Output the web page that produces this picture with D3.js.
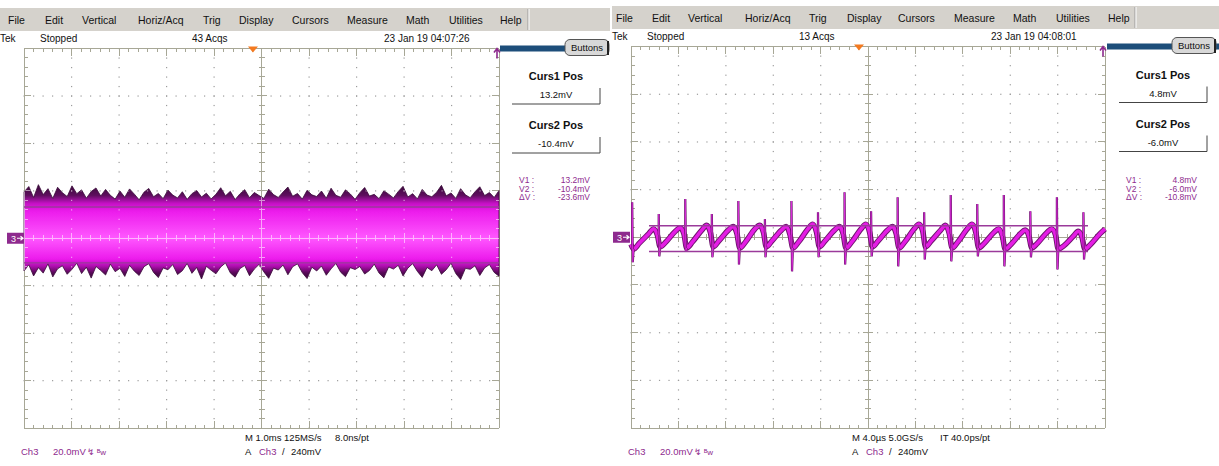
<!DOCTYPE html>
<html><head><meta charset="utf-8">
<script src="https://cdn.jsdelivr.net/npm/d3@7"></script>
<style>body{margin:0;background:#fff}svg{display:block}text{font-family:"Liberation Sans",Arial,sans-serif}</style>
</head><body><script>
// ---------------- data ----------------
const menuLabels = ["File","Edit","Vertical","Horiz/Acq","Trig","Display","Cursors","Measure","Math","Utilities","Help"];
const acqLabels = ["43 Acqs","13 Acqs"];
const timestampLabels = ["23 Jan 19 04:07:26","23 Jan 19 04:08:01"];
const cursor1mV = [13.2, 4.8];
const cursor2mV = [-10.4, -6.0];
const deltaVmV = [-23.6, -10.8];
const channelLabel = "Ch3";
const scaleLabel = "20.0mV";
const timebaseLabels = ["M 1.0ms 125MS/s","M 4.0\u00b5s 5.0GS/s"];
const resolutionLabels = ["8.0ns/pt","IT 40.0ps/pt"];
const triggerLevelLabel = "240mV";
const timeDomains = [[-5,5],[-20,20]];      // ms (left), µs (right)
const voltDomain = [-80,80];                // mV, 20 mV/div
const triggerTimes = [-0.18, -0.76];

// left: peak envelope of the ripple noise (mV), sampled across the screen
const noiseTop = [19.5,21.8,17.2,22.6,18.4,20.9,16.8,21.5,19.2,17.6,22.1,18.8,20.4,16.9,19.7,21.2,17.8,20.6,18.1,16.5,19.9,17.3,20.8,18.6,16.2,19.4,21.0,17.5,18.9,16.7,20.3,18.2,17.0,19.6,16.4,18.8,20.1,17.4,19.0,16.6,18.5,21.3,17.9,19.8,16.3,18.7,20.5,17.1,19.3,18.0,16.8,20.7,18.4,17.2,19.5,21.6,17.7,18.9,16.5,20.2,18.3,17.6,19.9,16.9,21.1,18.1,17.3,20.4,18.7,16.4,19.2,21.4,17.8,18.5,16.7,20.0,18.6,17.0,19.7,21.9,17.4,18.8,16.6,20.6,18.2,17.5,19.4,22.3,17.9,19.1,16.8,20.9,18.3,17.1,19.6,21.7,18.0,19.3,17.2,20.1];
const noiseBottom = [-13.8,-11.2,-15.9,-12.4,-14.7,-10.8,-16.3,-12.9,-11.6,-15.2,-13.1,-10.5,-14.9,-12.2,-16.8,-11.9,-13.6,-15.5,-10.9,-14.1,-12.7,-16.1,-11.4,-13.9,-15.7,-12.0,-10.7,-14.4,-16.6,-12.5,-13.3,-11.1,-15.3,-13.7,-10.6,-14.8,-12.3,-17.2,-11.8,-13.5,-15.0,-12.1,-10.4,-14.6,-16.4,-12.8,-11.5,-15.8,-13.0,-11.0,-14.2,-16.9,-12.6,-13.4,-11.3,-15.4,-12.0,-10.8,-14.5,-17.0,-12.2,-13.8,-11.7,-15.6,-12.9,-10.6,-14.3,-16.2,-12.4,-13.2,-11.9,-15.1,-13.6,-10.9,-14.7,-16.7,-12.1,-13.0,-11.4,-15.9,-12.6,-10.7,-14.0,-16.5,-12.3,-13.7,-11.2,-15.2,-13.3,-10.5,-14.9,-17.4,-12.7,-13.1,-11.6,-15.7,-12.5,-11.1,-14.4,-16.0];

// right: switching spikes (µs, mV)
const spikeTimes = [-19.90,-17.66,-15.42,-13.18,-10.94,-8.70,-6.46,-4.22,-1.98,0.26,2.50,4.74,6.98,9.22,11.46,13.70,15.94,18.18];
const spikeHigh = [14.7,9.7,16.0,9.7,15.2,7.6,15.2,10.5,18.9,10.9,16.8,10.5,17.7,13.9,17.7,10.9,16.8,10.5];
const spikeLow = [-10.5,-8.0,-6.0,-8.4,-11.4,-8.4,-14.3,-8.4,-11.4,-8.0,-12.2,-9.3,-10.1,-8.0,-12.2,-8.4,-13.5,-9.3];
// right: slow ripple between spikes [µs, mV]
const ripplePoints = [[-20.0,-3.0],
[-19.78,-5.0],[-19.3,-2.5],[-18.5,1.5],[-18.1,3.5],[-17.78,1.0],
[-17.54,-4.0],[-17.06,-2.0],[-16.26,2.5],[-15.86,4.0],[-15.54,1.5],
[-15.30,-4.5],[-14.82,-2.0],[-14.02,3.0],[-13.62,5.0],[-13.30,2.0],
[-13.06,-4.0],[-12.58,-1.5],[-11.78,3.0],[-11.38,4.5],[-11.06,1.5],
[-10.82,-4.5],[-10.34,-2.0],[-9.54,3.5],[-9.14,5.0],[-8.82,2.0],
[-8.58,-4.0],[-8.10,-1.5],[-7.30,3.0],[-6.90,4.5],[-6.58,1.0],
[-6.34,-4.5],[-5.86,-2.0],[-5.06,3.5],[-4.66,5.5],[-4.34,2.0],
[-4.10,-4.0],[-3.62,-1.5],[-2.82,3.0],[-2.42,4.5],[-2.10,1.5],
[-1.86,-4.5],[-1.38,-2.0],[-0.58,3.5],[-0.18,5.5],[0.14,2.0],
[0.38,-4.0],[0.86,-1.5],[1.66,3.0],[2.06,4.5],[2.38,1.5],
[2.62,-4.5],[3.10,-2.0],[3.90,3.5],[4.30,5.5],[4.62,2.5],
[4.86,-4.0],[5.34,-1.5],[6.14,3.0],[6.54,5.0],[6.86,1.5],
[7.10,-4.5],[7.58,-2.0],[8.38,3.5],[8.78,5.5],[9.10,2.0],
[9.34,-4.5],[9.82,-2.5],[10.62,2.0],[11.02,3.5],[11.34,0.5],
[11.58,-5.0],[12.06,-3.0],[12.86,1.5],[13.26,3.0],[13.58,0.5],
[13.82,-4.5],[14.30,-2.5],[15.10,2.0],[15.50,3.5],[15.82,1.0],
[16.06,-5.0],[16.54,-3.5],[17.34,0.5],[17.74,2.5],[18.06,0.0],
[18.30,-5.0],[18.78,-3.0],[19.58,1.5],[20.0,3.5]];

// ---------------- layout ----------------
const W = 1219, H = 466;
const panels = [
  {ox:0,   gx:[24,499],  gy:[428,48.5], menuX:[8,45,82,138,203,239,292,347,406,449,500], sep:528, menuW:610, top:0,
   cursX:[24,499], tekX:0},
  {ox:607, gx:[631,1105], gy:[428,46.5], menuX:[616,652,688,745,809,847,898,954,1013,1056,1108], sep:1135, menuW:612, top:-2,
   cursX:[649,1088], tekX:612}
];
const PURPLE = "#8e2a8e", MAG = "#e41ee4";

const svg = d3.select("body").append("svg").attr("width", W).attr("height", H);
svg.append("rect").attr("width", W).attr("height", H).attr("fill", "#fff");
const defs = svg.append("defs");

function drawGraticule(g, x, y, col, dotCol) {
  const [x0, x1] = x.range(), [y0, y1] = y.range(); // y0 bottom, y1 top
  const xd = x.domain(), yd = y.domain();
  const xm = d3.range(51).map(i => xd[0] + (xd[1]-xd[0]) * i / 50);
  const ym = d3.range(41).map(i => yd[0] + (yd[1]-yd[0]) * i / 40);
  const dots = [];
  for (let i = 1; i < 10; i++) if (i !== 5) ym.forEach(v => dots.push([x(xm[i*5]), y(v)]));
  for (let j = 1; j < 8; j++) if (j !== 4) xm.forEach(v => dots.push([x(v), y(ym[j*5])]));
  g.append("g").selectAll("rect").data(dots).join("rect")
    .attr("x", d => d[0]-0.5).attr("y", d => d[1]-0.5).attr("width", 1.2).attr("height", 1.2).attr("fill", dotCol);
  const ln = [];
  ln.push([x0,y1,x1,y1],[x0,y0,x1,y0],[x0,y0,x0,y1],[x1,y0,x1,y1]);
  ln.push([x0,y(0),x1,y(0)],[x(0),y0,x(0),y1]);
  xm.forEach((v,i) => {
    const L = i % 5 === 0 ? 7 : 3.5;
    ln.push([x(v), y1, x(v), y1+L], [x(v), y0, x(v), y0-L]);
    const c = i % 5 === 0 ? 5 : 3;
    ln.push([x(v), y(0)-c, x(v), y(0)+c]);
  });
  ym.forEach((v,i) => {
    const L = i % 5 === 0 ? 7 : 3.5;
    ln.push([x0, y(v), x0+L, y(v)], [x1, y(v), x1-L, y(v)]);
    const c = i % 5 === 0 ? 5 : 3;
    ln.push([x(0)-c, y(v), x(0)+c, y(v)]);
  });
  g.append("g").selectAll("line").data(ln).join("line")
    .attr("x1", d => d[0]).attr("y1", d => d[1]).attr("x2", d => d[2]).attr("y2", d => d[3])
    .attr("stroke", col).attr("stroke-width", 1).attr("shape-rendering", "crispEdges");
}

const fmt = v => v.toFixed(1) + "mV";

panels.forEach((p, pi) => {
  const g = svg.append("g");
  const ox = p.ox, top = p.top;
  g.append("rect").attr("x", pi ? 612 : 0).attr("y", 8+top).attr("width", p.menuW - (pi ? 5 : 0)).attr("height", 23).attr("fill", "#d5d2cc");
  g.append("line").attr("x1", p.sep).attr("x2", p.sep).attr("y1", 9+top).attr("y2", 30+top).attr("stroke", "#9a9a9a");
  g.append("line").attr("x1", p.sep+1).attr("x2", p.sep+1).attr("y1", 9+top).attr("y2", 30+top).attr("stroke", "#fff");
  g.selectAll("text.menu").data(menuLabels).join("text").attr("class","menu")
    .attr("x", (d,i) => p.menuX[i]).attr("y", 24+top).attr("font-size", 10.5).attr("fill", "#111").text(d => d);
  g.append("text").attr("x", p.tekX).attr("y", 42+top).attr("font-size", 10).attr("fill", "#111").text("Tek");
  g.append("text").attr("x", ox+40).attr("y", 42+top).attr("font-size", 10).attr("fill", "#111").text("Stopped");
  g.append("text").attr("x", ox+192).attr("y", 42+top).attr("font-size", 10).attr("fill", "#111").text(acqLabels[pi]);
  g.append("text").attr("x", ox+384).attr("y", 42+top).attr("font-size", 10).attr("fill", "#111").text(timestampLabels[pi]);
  g.append("rect").attr("x", ox+500).attr("y", 45.5+top).attr("width", pi ? 112 : 109).attr("height", 6).attr("fill", "#1d4e7a");
  g.append("rect").attr("x", ox+565).attr("y", 39.5+top).attr("width", 44).attr("height", 16).attr("rx", 5)
    .attr("fill", "#d8d8d8").attr("stroke", "#555").attr("stroke-width", 1);
  g.append("line").attr("x1", ox+608).attr("x2", ox+608).attr("y1", 41+top).attr("y2", 55+top).attr("stroke", "#222").attr("stroke-width", 2);
  g.append("text").attr("x", ox+587).attr("y", 51+top).attr("text-anchor", "middle").attr("font-size", 9.5).attr("fill", "#111").text("Buttons");

  const x = d3.scaleLinear().domain(timeDomains[pi]).range(p.gx);
  const y = d3.scaleLinear().domain(voltDomain).range(p.gy);

  drawGraticule(g.append("g"), x, y, "#a7a796", "#9c9c9c");

  if (pi === 0) {
    const xi = d3.scaleLinear().domain([0, noiseTop.length-1]).range(timeDomains[0]);
    const band = noiseTop.map((v,i) => ({t: xi(i), hi: v, lo: noiseBottom[i]}));
    const grad = defs.append("linearGradient").attr("id", "ng").attr("gradientUnits", "userSpaceOnUse")
      .attr("x1", 0).attr("x2", 0).attr("y1", y(24)).attr("y2", y(-18));
    [[0,"#300830"],[0.14,"#5e0f5e"],[0.22,"#c412c4"],[0.3,"#ec1cec"],[0.57,"#ff58ff"],[0.78,"#ec1cec"],[0.85,"#b010b0"],[0.92,"#560a56"],[1,"#300830"]]
      .forEach(s => grad.append("stop").attr("offset", s[0]).attr("stop-color", s[1]));
    const area = d3.area().x(d => x(d.t)).y0(d => y(d.lo)).y1(d => y(d.hi));
    g.append("path").attr("d", area(band)).attr("fill", "url(#ng)").attr("stroke", "#3a0a3a").attr("stroke-width", 0.8);
    g.append("clipPath").attr("id", "bandclip").append("path").attr("d", area(band));
    drawGraticule(g.append("g").attr("clip-path", "url(#bandclip)").attr("opacity", 0.55), x, y, "#fff", "#fff");
  } else {
    const smooth = d3.line().curve(d3.curveMonotoneX).x(d => x(d[0])).y(d => y(d[1]));
    const line = d3.line().x(d => x(d[0])).y(d => y(d[1]));
    g.append("path").attr("d", smooth(ripplePoints)).attr("fill", "none").attr("stroke", "#6e146e").attr("stroke-width", 5.5).attr("stroke-linejoin", "round");
    g.append("path").attr("d", smooth(ripplePoints)).attr("fill", "none").attr("stroke", MAG).attr("stroke-width", 3.6).attr("stroke-linejoin", "round");
    const rt = ripplePoints.map(d => d[0]);
    const spikes = spikeTimes.map((t,k) => {
      const i = d3.bisectLeft(rt, t);
      return [[t, ripplePoints[i-1][1]], [t, spikeHigh[k]], [t+0.05, spikeLow[k]], [t+0.12, ripplePoints[i][1]]];
    });
    g.selectAll("path.sp0").data(spikes).join("path").attr("class","sp0").attr("d", line).attr("fill", "none").attr("stroke", "#5e105e").attr("stroke-width", 2.2);
    g.selectAll("path.sp1").data(spikes).join("path").attr("class","sp1").attr("d", line).attr("fill", "none").attr("stroke", "#d82ad8").attr("stroke-width", 1.1);
  }

  [cursor1mV[pi], cursor2mV[pi]].forEach(v => {
    g.append("line").attr("x1", p.cursX[0]).attr("x2", p.cursX[1]).attr("y1", y(v)).attr("y2", y(v))
      .attr("stroke", "#9a3a9a").attr("stroke-width", 1.4);
  });

  const tx = x(triggerTimes[pi]), gt = p.gy[1];
  g.append("path").attr("d", `M${tx-5},${gt-2}L${tx+5},${gt-2}L${tx},${gt+4}Z`).attr("fill", "#f47a20");
  const ax = p.gx[1] - 2;
  g.append("path").attr("d", `M${ax},${gt+10}L${ax},${gt+1}M${ax-3},${gt+4}L${ax},${gt}L${ax+3},${gt+4}`)
    .attr("stroke", PURPLE).attr("stroke-width", 1.6).attr("fill", "none");
  const gy0 = y(0);
  g.append("rect").attr("x", ox + (pi ? 6 : 7)).attr("y", gy0-5.5).attr("width", 17).attr("height", 11).attr("fill", PURPLE);
  g.append("text").attr("x", ox + (pi ? 10 : 11)).attr("y", gy0+3.5).attr("font-size", 9).attr("fill", "#fff").text("3");
  g.append("path").attr("d", `M${ox+(pi?16:17)},${gy0}L${ox+(pi?22:23)},${gy0}M${ox+(pi?19.5:20.5)},${gy0-2}L${ox+(pi?22:23)},${gy0}L${ox+(pi?19.5:20.5)},${gy0+2}`)
    .attr("stroke", "#fff").attr("stroke-width", 1.2).attr("fill", "none");

  const cx = ox + 556, ct = pi ? -1.5 : 0;
  [[cursor1mV[pi], "Curs1 Pos", 0], [cursor2mV[pi], "Curs2 Pos", 49]].forEach(([v, lab, dy]) => {
    g.append("text").attr("x", cx).attr("y", 80+dy+ct).attr("text-anchor", "middle").attr("font-size", 11).attr("font-weight", "bold").attr("fill", "#111").text(lab);
    g.append("path").attr("d", `M${ox+512},${104+dy+ct}H${ox+600}V${88+dy+ct}`).attr("fill", "none").attr("stroke", "#444").attr("stroke-width", 1);
    g.append("text").attr("x", cx).attr("y", 98+dy+ct).attr("text-anchor", "middle").attr("font-size", 9.5).attr("fill", "#111").text(fmt(v));
  });
  [["V1 :", cursor1mV[pi]], ["V2 :", cursor2mV[pi]], ["\u0394V :", deltaVmV[pi]]].forEach(([lab, v], i) => {
    g.append("text").attr("x", ox+519).attr("y", 183+i*8.5).attr("font-size", 8.5).attr("fill", PURPLE).text(lab);
    g.append("text").attr("x", ox+590).attr("y", 183+i*8.5).attr("text-anchor", "end").attr("font-size", 8.5).attr("fill", PURPLE).text(fmt(v));
  });

  g.append("text").attr("x", ox+21).attr("y", 455).attr("font-size", 9.5).attr("fill", PURPLE).text(channelLabel);
  g.append("text").attr("x", ox+53).attr("y", 455).attr("font-size", 9.5).attr("fill", PURPLE).text(scaleLabel);
  g.append("text").attr("x", ox+87).attr("y", 455).attr("font-size", 8.5).attr("fill", PURPLE).text("\u21af");
  g.append("text").attr("x", ox+97).attr("y", 455).attr("font-size", 8).attr("fill", PURPLE).text("\u1d2ew");
  g.append("text").attr("x", ox+245).attr("y", 441).attr("font-size", 9.5).attr("fill", "#111").text(timebaseLabels[pi]);
  g.append("text").attr("x", ox+(pi ? 333 : 335)).attr("y", 441).attr("font-size", 9.5).attr("fill", "#111").text(resolutionLabels[pi]);
  g.append("text").attr("x", ox+245).attr("y", 455).attr("font-size", 9.5).attr("fill", "#111").text("A");
  g.append("text").attr("x", ox+259).attr("y", 455).attr("font-size", 9.5).attr("fill", PURPLE).text(channelLabel);
  g.append("text").attr("x", ox+282).attr("y", 455).attr("font-size", 9.5).attr("fill", "#111").text("/");
  g.append("text").attr("x", ox+291).attr("y", 455).attr("font-size", 9.5).attr("fill", "#111").text(triggerLevelLabel);
});
</script></body></html>
